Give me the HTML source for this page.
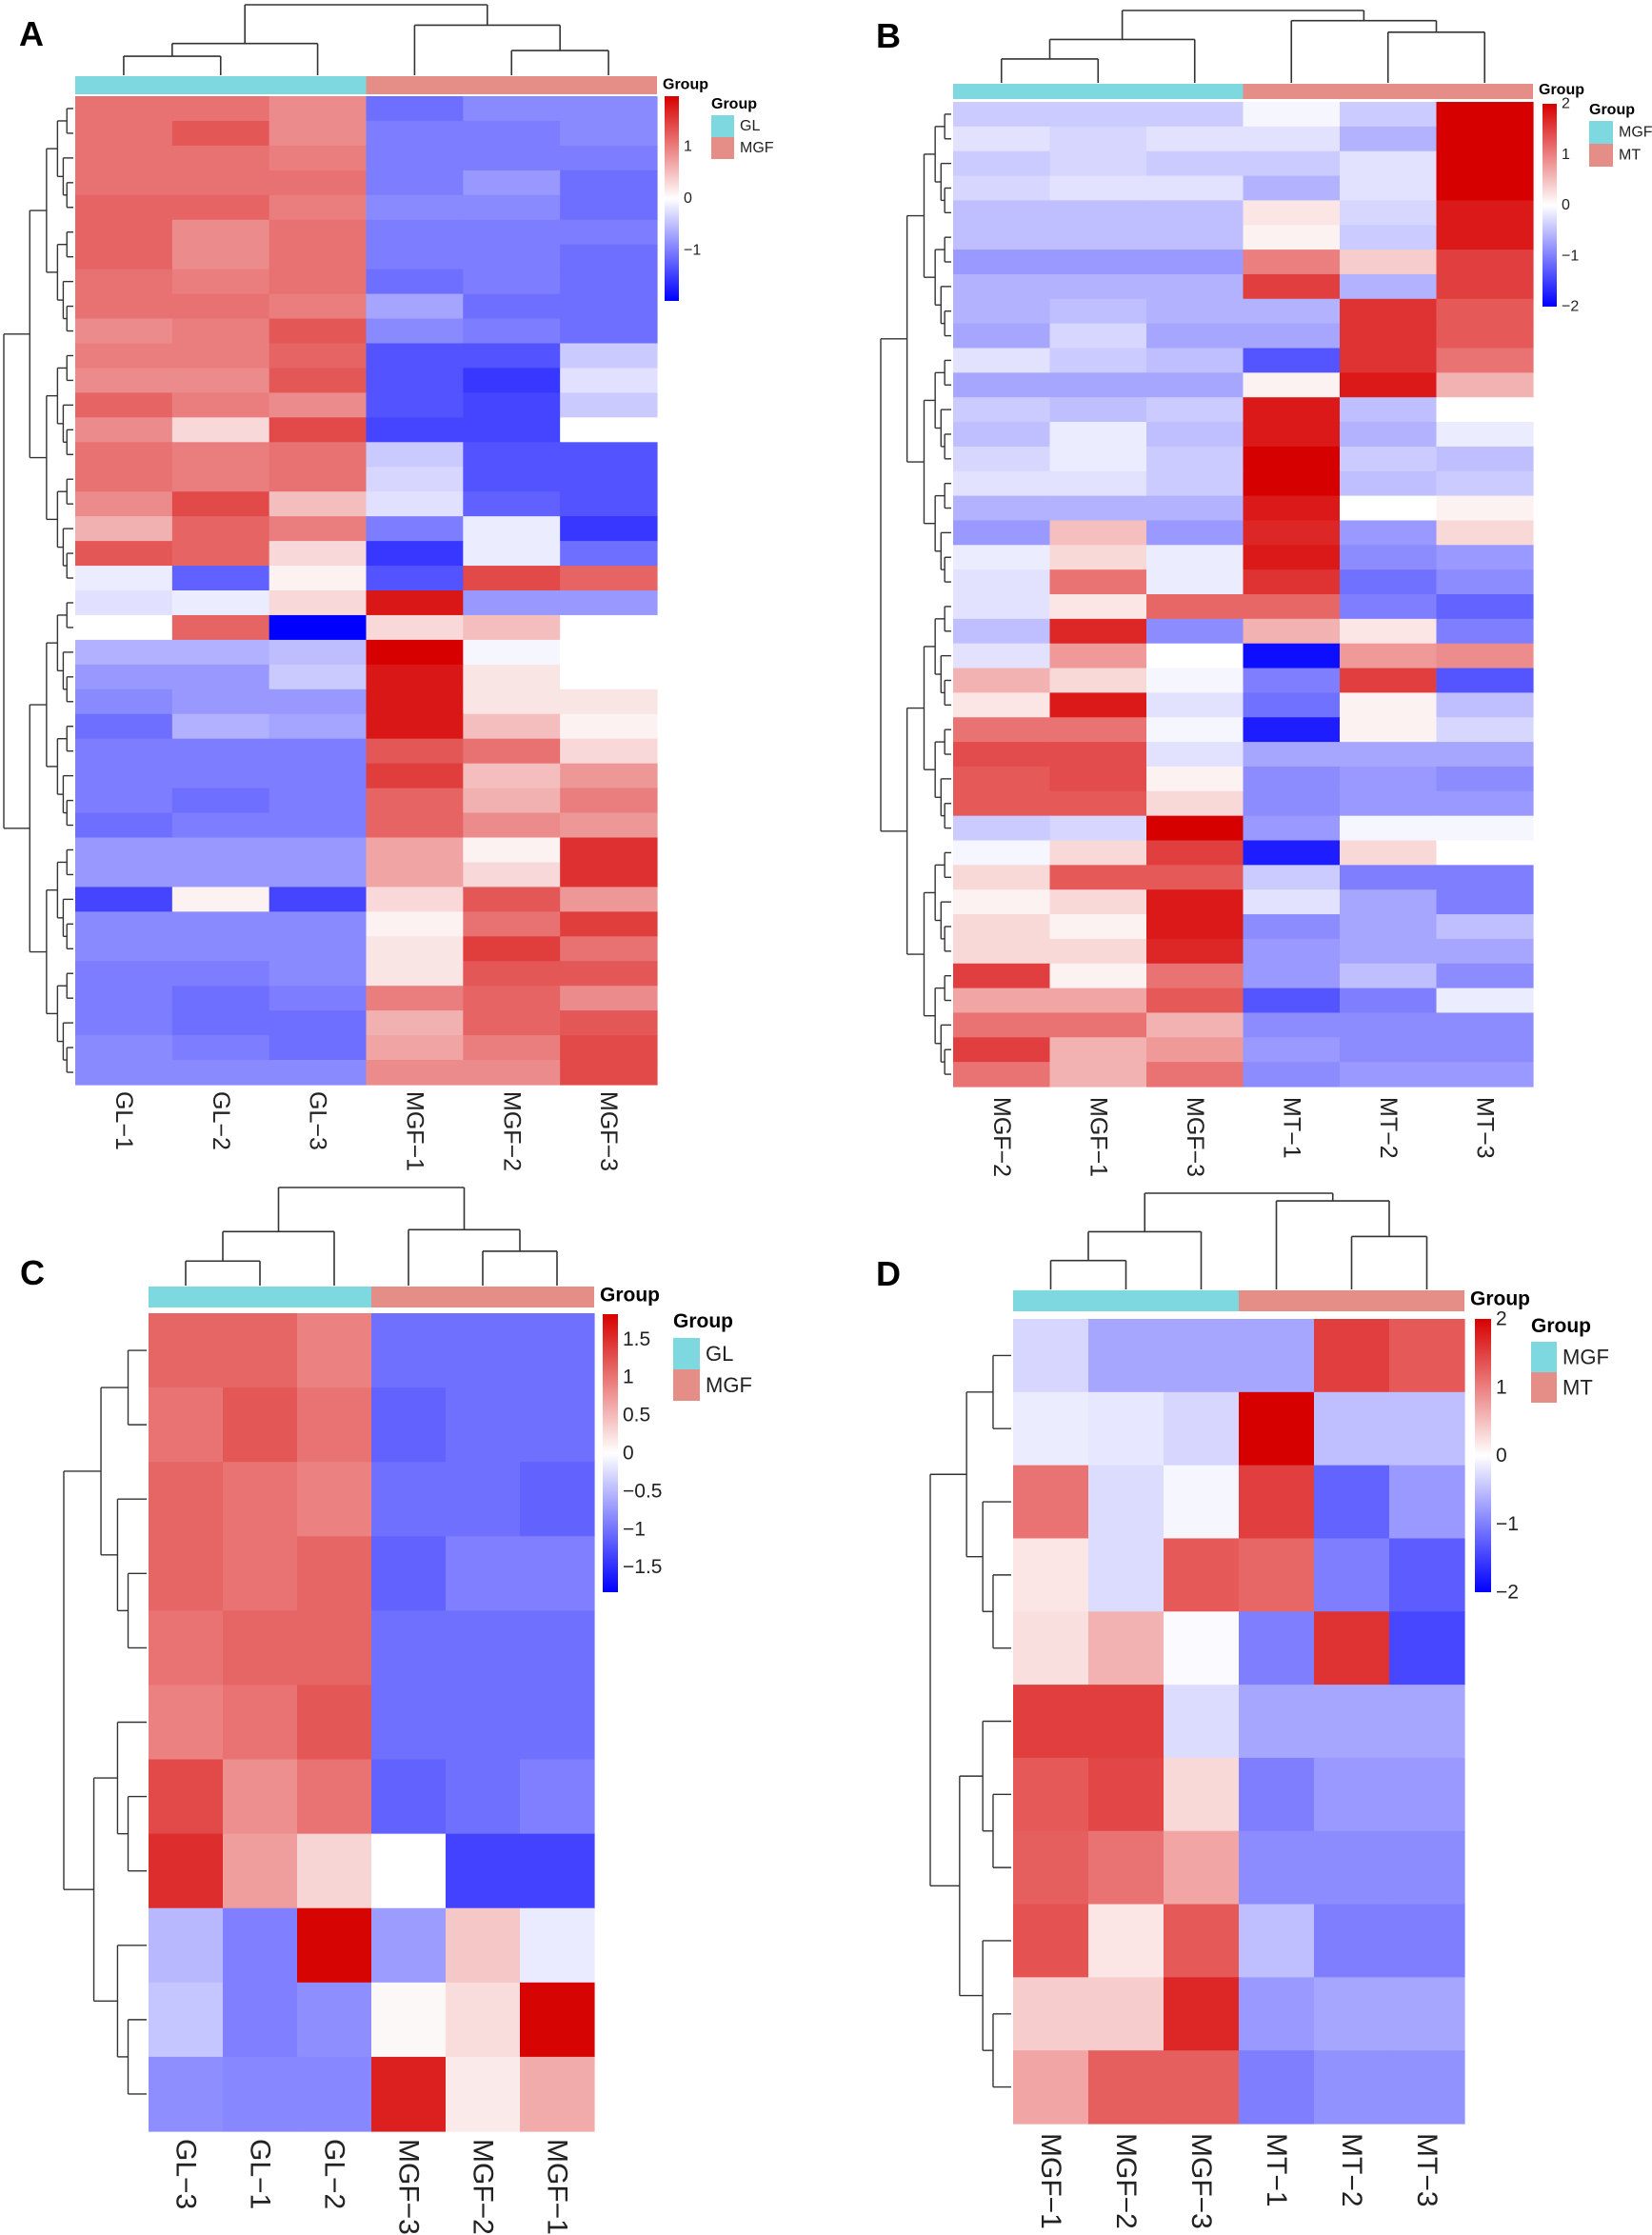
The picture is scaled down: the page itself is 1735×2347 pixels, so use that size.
<!DOCTYPE html>
<html><head><meta charset="utf-8">
<style>
html,body{margin:0;padding:0;background:#fff;}
svg{display:block;font-family:"Liberation Sans",sans-serif;}
</style></head>
<body>
<svg id="fig" xmlns="http://www.w3.org/2000/svg" width="1735" height="2347" viewBox="0 0 1735 2347">
<defs>
<linearGradient id="cbar" x1="0" y1="0" x2="0" y2="1">
<stop offset="0" stop-color="#d70000"/><stop offset="0.5" stop-color="#ffffff"/><stop offset="1" stop-color="#0000ff"/>
</linearGradient>
</defs>
</svg>
<script>
// ---- Panel A data ----
const colsA = ["GL\u22121","GL\u22122","GL\u22123","MGF\u22121","MGF\u22122","MGF\u22123"];
const groupsA = ["GL","MGF"];
const ticksA = ["1","0","\u22121"];
const tickValsA = [1,0,-1];
const valsA = [
[1.1,1.1,0.9,-1.2,-1.0,-1.0],[1.1,1.3,0.9,-1.1,-1.1,-1.0],[1.1,1.1,1.0,-1.1,-1.1,-1.1],[1.1,1.1,1.1,-1.1,-0.9,-1.2],
[1.2,1.2,1.0,-1.0,-1.0,-1.2],[1.2,0.9,1.1,-1.1,-1.1,-1.1],[1.2,0.9,1.1,-1.1,-1.1,-1.2],[1.1,1.0,1.1,-1.2,-1.1,-1.2],
[1.1,1.1,1.0,-0.8,-1.2,-1.2],[0.9,1.0,1.3,-1.0,-1.1,-1.2],[1.0,1.0,1.2,-1.4,-1.4,-0.5],[0.9,0.9,1.3,-1.4,-1.6,-0.3],
[1.2,1.0,0.9,-1.4,-1.5,-0.5],[0.9,0.3,1.4,-1.5,-1.5,0],[1.1,1.0,1.1,-0.5,-1.4,-1.4],[1.1,1.0,1.1,-0.4,-1.4,-1.4],
[0.9,1.4,0.5,-0.3,-1.3,-1.4],[0.6,1.2,1.0,-1.1,-0.2,-1.6],[1.3,1.2,0.3,-1.6,-0.2,-1.2],[-0.2,-1.3,0.1,-1.4,1.4,1.2],
[-0.3,-0.2,0.3,1.8,-0.9,-0.9],[0,1.2,-2,0.3,0.5,0],[-0.7,-0.7,-0.6,2,-0.1,0],[-0.9,-0.9,-0.5,1.8,0.2,0],
[-1.0,-0.9,-0.9,1.8,0.2,0.2],[-1.2,-0.7,-0.8,1.8,0.5,0.1],[-1.1,-1.1,-1.1,1.3,1.1,0.3],[-1.1,-1.1,-1.1,1.5,0.5,0.8],
[-1.1,-1.2,-1.1,1.2,0.6,1.0],[-1.2,-1.1,-1.1,1.2,0.9,0.8],[-0.9,-0.9,-0.9,0.7,0.1,1.6],[-0.9,-0.9,-0.9,0.7,0.3,1.6],
[-1.5,0.1,-1.5,0.3,1.3,0.8],[-1.0,-1.0,-1.0,0.1,1.1,1.5],[-1.0,-1.0,-1.0,0.2,1.5,1.1],[-1.1,-1.1,-1.0,0.2,1.3,1.3],
[-1.1,-1.2,-1.1,1.0,1.2,0.9],[-1.1,-1.2,-1.2,0.6,1.2,1.3],[-1.0,-1.1,-1.2,0.7,1.0,1.4],[-1.0,-1.0,-1.0,0.9,0.9,1.4]];
// ---- Panel B data ----
const colsB = ["MGF\u22122","MGF\u22121","MGF\u22123","MT\u22121","MT\u22122","MT\u22123"];
const groupsB = ["MGF","MT"];
const ticksB = ["2","1","0","\u22121","\u22122"];
const tickValsB = [2,1,0,-1,-2];
const valsB = [
[-0.5,-0.5,-0.5,-0.1,-0.5,2],[-0.3,-0.4,-0.3,-0.3,-0.7,2],[-0.5,-0.4,-0.5,-0.5,-0.3,2],[-0.4,-0.3,-0.3,-0.7,-0.3,2],
[-0.6,-0.6,-0.6,0.2,-0.4,1.8],[-0.6,-0.6,-0.6,0.1,-0.5,1.8],[-0.9,-0.9,-0.9,1.0,0.4,1.5],[-0.7,-0.7,-0.7,1.5,-0.7,1.5],
[-0.7,-0.6,-0.7,-0.7,1.6,1.3],[-0.8,-0.4,-0.8,-0.8,1.6,1.3],[-0.3,-0.5,-0.6,-1.4,1.6,1.1],[-0.8,-0.8,-0.8,0.1,1.8,0.6],
[-0.5,-0.6,-0.5,1.8,-0.6,0],[-0.6,-0.2,-0.6,1.8,-0.7,-0.2],[-0.4,-0.2,-0.5,2,-0.5,-0.6],[-0.3,-0.3,-0.5,2,-0.6,-0.5],
[-0.7,-0.7,-0.7,1.8,0,0.1],[-0.9,0.5,-0.9,1.7,-0.9,0.3],[-0.2,0.3,-0.2,1.8,-1.0,-0.9],[-0.3,1.1,-0.2,1.6,-1.2,-1.0],
[-0.3,0.2,1.2,1.2,-1.1,-1.3],[-0.6,1.7,-1.0,0.6,0.2,-1.1],[-0.3,0.8,0,-1.9,0.8,0.9],[0.6,0.3,-0.1,-1.1,1.5,-1.4],
[0.2,1.8,-0.3,-1.2,0.1,-0.6],[1.1,1.1,-0.1,-1.8,0.1,-0.4],[1.4,1.4,-0.3,-0.8,-0.8,-0.8],[1.3,1.4,0.1,-1.0,-0.9,-1.0],
[1.3,1.3,0.3,-1.0,-0.9,-0.9],[-0.5,-0.4,2,-0.9,-0.1,-0.1],[-0.1,0.3,1.5,-1.8,0.3,0],[0.3,1.3,1.3,-0.5,-1.1,-1.1],
[0.1,0.3,1.8,-0.3,-0.8,-1.1],[0.3,0.1,1.8,-1.0,-0.8,-0.6],[0.3,0.3,1.7,-0.9,-0.8,-0.8],[1.5,0.1,1.1,-0.9,-0.6,-1.0],
[0.7,0.7,1.3,-1.4,-1.1,-0.2],[1.1,1.1,0.6,-1.0,-1.0,-1.0],[1.5,0.6,0.8,-0.9,-1.0,-1.0],[1.1,0.6,1.1,-1.0,-0.9,-0.9]];
// ---- Panel C data ----
const colsC = ["GL\u22123","GL\u22121","GL\u22122","MGF\u22123","MGF\u22122","MGF\u22121"];
const groupsC = ["GL","MGF"];
const ticksC = ["1.5","1","0.5","0","\u22120.5","\u22121","\u22121.5"];
const tickValsC = [1.5,1,0.5,0,-0.5,-1,-1.5];
const valsC = [
[1.1,1.1,0.9,-1.1,-1.1,-1.1],[1.0,1.2,1.0,-1.2,-1.1,-1.1],[1.1,1.0,0.9,-1.1,-1.1,-1.2],[1.1,1.0,1.1,-1.2,-1.0,-1.0],
[1.0,1.1,1.1,-1.1,-1.1,-1.1],[0.9,1.0,1.2,-1.1,-1.1,-1.1],[1.3,0.8,1.0,-1.2,-1.1,-1.0],[1.5,0.7,0.3,0,-1.4,-1.4],
[-0.6,-1.0,1.8,-0.8,0.4,-0.2],[-0.5,-1.0,-0.9,0.05,0.25,1.8],[-0.9,-0.95,-0.95,1.6,0.15,0.6]];
// ---- Panel D data ----
const colsD = ["MGF\u22121","MGF\u22122","MGF\u22123","MT\u22121","MT\u22122","MT\u22123"];
const groupsD = ["MGF","MT"];
const ticksD = ["2","1","0","\u22121","\u22122"];
const tickValsD = [2,1,0,-1,-2];
const valsD = [
[-0.4,-0.8,-0.8,-0.8,1.5,1.3],[-0.2,-0.25,-0.4,2,-0.6,-0.6],[1.1,-0.35,-0.1,1.5,-1.3,-0.9],[0.2,-0.35,1.3,1.2,-1.1,-1.35],
[0.25,0.6,-0.05,-1.1,1.6,-1.5],[1.5,1.5,-0.35,-0.8,-0.8,-0.8],[1.3,1.45,0.3,-1.1,-0.9,-0.9],[1.25,1.1,0.7,-1.0,-1.0,-1.0],
[1.35,0.2,1.3,-0.6,-1.1,-1.1],[0.4,0.4,1.7,-0.9,-0.8,-0.8],[0.7,1.25,1.25,-1.1,-0.95,-0.95]];

const NS="http://www.w3.org/2000/svg";
const svg=document.getElementById('fig');
function mk(tag,attrs,parent){const e=document.createElementNS(NS,tag);for(const k in attrs)e.setAttribute(k,attrs[k]);(parent||svg).appendChild(e);return e;}
function color(v,lim){let t=Math.max(-1,Math.min(1,v/lim));
 if(t>=0){const r=255+(215-255)*t,g=255*(1-t),b=255*(1-t);return `rgb(${r|0},${g|0},${b|0})`;}
 t=Math.pow(-t,1.15);const r=255*(1-t),g=255*(1-t);return `rgb(${r|0},${g|0},255)`;}
function build(a,b){if(b-a===1)return{leaf:a,size:1};const m=Math.floor((a+b)/2);return{l:build(a,m),r:build(m,b),size:b-a};}

function panel(p){
 const g=mk('g',{});
 
 
 const nR=p.vals.length,nC=p.cols.length;
 const cw=(p.x1-p.x0)/nC,rh=(p.y1-p.y0)/nR;
 const xs=c=>p.x0+c*cw, ys=r=>p.y0+r*rh;
 const L=mk('text',{x:p.lx,y:p.ly,'font-size':p.lfs,'font-weight':'bold',fill:'#000'},g);L.textContent=p.letter;
 
 
 for(let r=0;r<nR;r++)for(let c=0;c<nC;c++){
  const cell=mk('rect',{x:xs(c),y:ys(r),width:cw+0.6,height:rh+0.6,fill:color(p.vals[r][c],p.lim)},g);
  
  
 }
 const half=nC/2;
 const b1=mk('rect',{x:p.x0,y:p.by,width:cw*half,height:p.bh,fill:'#7dd9df'},g);
 
 
 const b2=mk('rect',{x:p.x0+cw*half,y:p.by,width:cw*half,height:p.bh,fill:'#e58e87'},g);
 
 
 const gt=mk('text',{x:p.x1+6,y:p.by+p.bh*0.7,'font-size':p.sfs,'font-weight':'bold'},g);gt.textContent='Group';
 
 
 for(let c=0;c<nC;c++){
  const cx=xs(c)+cw/2;
  const t=mk('text',{x:cx,y:p.ly2,'font-size':p.cfs,fill:'#222','dominant-baseline':'central',transform:`rotate(90 ${cx} ${p.ly2})`},g);
  t.textContent=p.cols[c];
  
  
 }
 const ch=p.colH, base=p.by-1, top=p.dTop, H=base-top;
 const cxp=c=>xs(c)+cw/2;
 const lineC=(x1,y1,x2,y2)=>{const l=mk('line',{x1,y1,x2,y2,stroke:'#333','stroke-width':1.6},g);};
 function node(xl,hl,xr,hr,h){const y=base-h*H;lineC(xl,base-hl*H,xl,y);lineC(xr,base-hr*H,xr,y);lineC(xl,y,xr,y);return[(xl+xr)/2,h];}
 const a=node(cxp(0),0,cxp(1),0,ch[0]);const a2=node(a[0],a[1],cxp(2),0,ch[1]);
 const bb=node(cxp(4),0,cxp(5),0,ch[2]);const b2n=node(cxp(3),0,bb[0],bb[1],ch[3]);
 node(a2[0],a2[1],b2n[0],b2n[1],1);
 const tree=build(0,nR);const rx=p.x0-2,W=rx-p.rLeft;
 const lineR=(x1,y1,x2,y2)=>{const l=mk('line',{x1,y1,x2,y2,stroke:'#333','stroke-width':1.4},g);};
 function drawR(n){if(n.leaf!==undefined)return{y:ys(n.leaf)+rh/2,x:rx};
  const L=drawR(n.l),R=drawR(n.r);const f=Math.pow((n.size-1)/(nR-1),0.65);const x=rx-f*W;
  lineR(x,L.y,L.x,L.y);lineR(x,R.y,R.x,R.y);lineR(x,L.y,x,R.y);return{y:(L.y+R.y)/2,x};}
 drawR(tree);
 const cb=mk('rect',{x:p.cbx,y:p.cby0,width:p.cbw,height:p.cby1-p.cby0,fill:'url(#cbar)'},g);
 
 
 const mid=(p.cby0+p.cby1)/2,hh=(p.cby1-p.cby0)/2;
 for(let i=0;i<p.ticks.length;i++){
  const y=mid-p.tickVals[i]/p.lim*hh;
  const t=mk('text',{x:p.cbx+p.cbw+5,y:y,'font-size':p.tfs,fill:'#222','dominant-baseline':'central'},g);
  t.textContent=p.ticks[i];
  
  
 }
 const lt=mk('text',{x:p.lgx,y:p.lgy,'font-size':p.sfs,'font-weight':'bold'},g);lt.textContent='Group';
 
 
 const cols2=['#7dd9df','#e58e87'];
 for(let i=0;i<2;i++){
  const sy=p.lgy+p.sw0+i*p.swh;
  const s=mk('rect',{x:p.lgx,y:sy,width:p.sww,height:p.swh,fill:cols2[i]},g);
  
  
  const t=mk('text',{x:p.lgx+p.sww+6,y:sy+p.swh/2,'font-size':p.gfs,fill:'#222','dominant-baseline':'central'},g);
  t.textContent=p.groups[i];
  
  
 }
}
panel({name:'panel-a',letter:'A',lx:20,ly:48,lfs:36,vals:valsA,cols:colsA,groups:groupsA,ticks:ticksA,tickVals:tickValsA,lim:1.98,
 x0:79,x1:690,y0:101,y1:1139,by:80,bh:19,dTop:5,colH:[0.27,0.45,0.35,0.71],rLeft:4,ly2:1146,cfs:25,
 cbx:698,cbw:15,cby0:101,cby1:316,tfs:16,sfs:16,lgx:747,lgy:114,sw0:7,swh:23,sww:24,gfs:16});
panel({name:'panel-b',letter:'B',lx:920,ly:50,lfs:36,vals:valsB,cols:colsB,groups:groupsB,ticks:ticksB,tickVals:tickValsB,lim:2,
 x0:1001,x1:1610,y0:107,y1:1141,by:88,bh:16,dTop:11,colH:[0.33,0.6,0.7,0.86],rLeft:925,ly2:1152,cfs:25,
 cbx:1620,cbw:15,cby0:109,cby1:322,tfs:16,sfs:16,lgx:1669,lgy:120,sw0:7,swh:24,sww:25,gfs:16});
panel({name:'panel-c',letter:'C',lx:21,ly:1349,lfs:36,vals:valsC,cols:colsC,groups:groupsC,ticks:ticksC,tickVals:tickValsC,lim:1.83,
 x0:156,x1:624,y0:1379,y1:2238,by:1351,bh:22,dTop:1247,colH:[0.25,0.55,0.35,0.57],rLeft:67,ly2:2246,cfs:30,
 cbx:633,cbw:16,cby0:1380,cby1:1672,tfs:21,sfs:21,lgx:707,lgy:1394,sw0:11,swh:33,sww:28,gfs:22});
panel({name:'panel-d',letter:'D',lx:920,ly:1350,lfs:36,vals:valsD,cols:colsD,groups:groupsD,ticks:ticksD,tickVals:tickValsD,lim:2,
 x0:1064,x1:1538,y0:1385,y1:2230,by:1355,bh:22,dTop:1253,colH:[0.3,0.6,0.55,0.92],rLeft:977,ly2:2240,cfs:30,
 cbx:1549,cbw:17,cby0:1385,cby1:1672,tfs:21,sfs:21,lgx:1608,lgy:1399,sw0:10,swh:32,sww:27,gfs:22});
</script>
</body></html>
